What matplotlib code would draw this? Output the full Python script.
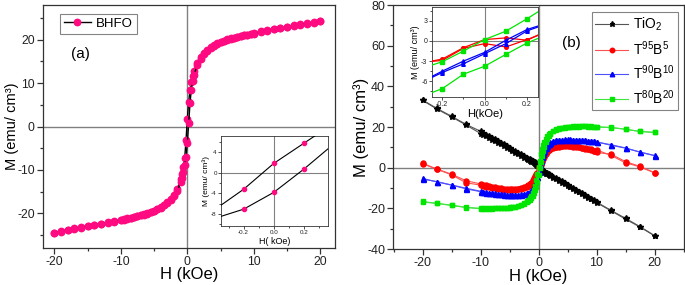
import matplotlib
matplotlib.use('Agg')
import matplotlib.pyplot as plt
from matplotlib.ticker import MultipleLocator, FixedLocator

plt.rcParams['font.family'] = ['Liberation Sans', 'DejaVu Sans']
plt.rcParams['mathtext.fontset'] = 'custom'
plt.rcParams['mathtext.rm'] = 'Liberation Sans'
plt.rcParams['mathtext.it'] = 'Liberation Sans:italic'
plt.rcParams['mathtext.bf'] = 'Liberation Sans:bold'
plt.rcParams['axes.unicode_minus'] = False

# ---------------- Panel (a): BHFO ----------------
Ha_desc = [20, 19, 18, 17, 16, 15, 14, 13, 12, 11,
           10, 9.5, 9, 8.5, 8, 7.5, 7, 6.5, 6, 5.5, 5, 4.5, 4, 3.5, 3, 2.5, 2,
           1.5, 1, 0.8, 0.6, 0.4, 0.2,
           0,
           -0.2, -0.4, -0.6, -0.8, -1, -1.5,
           -2, -2.5, -3, -3.5, -4, -4.5, -5, -5.5, -6, -6.5, -7, -7.5, -8, -8.5, -9, -9.5, -10,
           -11, -12, -13, -14, -15, -16, -17, -18, -19, -20]
Ma_desc = [24.3, 24.0, 23.8, 23.6, 23.3, 23.0, 22.7, 22.5, 22.2, 21.9,
           21.5, 21.4, 21.2, 21.1, 20.9, 20.7, 20.5, 20.3, 20.1, 19.8, 19.5, 19.2, 18.8, 18.3, 17.7, 16.9, 16.0,
           14.7, 12.8, 11.6, 10.3, 8.4, 5.7,
           1.8,
           -3.2, -7.3, -9.3, -10.9, -12.2, -14.3,
           -15.7, -16.8, -17.5, -18.1, -18.6, -19.0, -19.4, -19.7, -20.0, -20.2, -20.4, -20.6, -20.8, -21.0, -21.2, -21.4, -21.5,
           -21.8, -22.1, -22.4, -22.6, -22.9, -23.2, -23.5, -23.8, -24.1, -24.5]
Ha_asc = Ha_desc[::-1]
Ma_asc = [-24.5, -24.2, -23.9, -23.6, -23.3, -23.0, -22.7, -22.4, -22.2, -21.9,
          -21.6, -21.5, -21.3, -21.1, -20.9, -20.7, -20.5, -20.3, -20.1, -19.8, -19.5, -19.1, -18.7, -18.2, -17.6, -16.9, -16.0,
          -14.8, -12.9, -11.9, -10.5, -8.9, -7.0,
          -3.8,
          0.7, 5.4, 8.5, 10.5, 11.9, 14.2,
          15.6, 16.7, 17.5, 18.1, 18.6, 19.0, 19.4, 19.7, 20.0, 20.2, 20.4, 20.6, 20.8, 21.0, 21.1, 21.3, 21.4,
          21.8, 22.1, 22.4, 22.6, 22.9, 23.2, 23.5, 23.7, 23.9, 24.3]

# inset (a)
Hia = [-0.4, -0.2, 0.0, 0.2, 0.4]
Mia_upper = [-7.3, -3.2, 1.8, 5.7, 9.6]
Mia_lower = [-8.9, -7.05, -3.8, 0.7, 5.6]

# ---------------- Panel (b) ----------------
Hb_desc = [20, 17.5, 15, 12.5,
           10, 9.5, 9, 8.5, 8, 7.5, 7, 6.5, 6, 5.5, 5, 4.5, 4, 3.5, 3, 2.5, 2,
           1.75, 1.5, 1.25,
           1, 0.8, 0.6, 0.4, 0.2,
           0,
           -0.2, -0.4, -0.6, -0.8, -1,
           -1.25, -1.5, -1.75,
           -2, -2.5, -3, -3.5, -4, -4.5, -5, -5.5, -6, -6.5, -7, -7.5, -8, -8.5, -9, -9.5, -10,
           -12.5, -15, -17.5, -20]
Hb_asc = Hb_desc[::-1]

tio2_desc = [-33.4, -29.0, -24.9, -21.0,
             -16.9, -16.1, -15.2, -14.4, -13.5, -12.7, -11.9, -11.0, -10.2, -9.3, -8.5, -7.7, -6.8, -6.0, -5.2, -4.4, -3.6,
             -3.2, -2.8, -2.4,
             -2.0, -1.6, -1.2, -0.6, 0.2,
             1.0,
             1.7, 2.2, 2.6, 3.0, 3.3,
             3.7, 4.1, 4.5,
             4.9, 5.7, 6.5, 7.3, 8.1, 8.9, 9.8, 10.6, 11.5, 12.3, 13.1, 13.9, 14.7, 15.5, 16.3, 17.1, 17.9,
             21.3, 25.3, 29.1, 33.3]
tio2_asc = [33.1, 28.8, 25.0, 21.0,
            16.8, 16.2, 15.4, 14.6, 13.8, 13.0, 12.2, 11.4, 10.6, 9.8, 9.0, 8.2, 7.4, 6.6, 5.8, 5.0, 4.2,
            3.8, 3.4, 3.0,
            2.6, 2.2, 1.8, 1.3, 0.6,
            -0.2,
            -0.9, -1.4, -1.8, -2.2, -2.5,
            -2.9, -3.3, -3.7,
            -4.1, -4.9, -5.7, -6.5, -7.3, -8.1, -8.9, -9.7, -10.6, -11.4, -12.2, -13.0, -13.9, -14.7, -15.5, -16.3, -17.2,
            -21.2, -25.3, -29.2, -33.5]

t95_desc = [-2.4, 0.6, 3.0, 6.6,
            7.5, 8.3, 9.0, 9.3, 9.6, 9.9, 10.2, 10.5, 10.7, 10.9, 11.0, 11.0, 10.9, 10.7, 10.4, 10.0, 9.3,
            8.8, 8.0, 7.0,
            5.8, 4.6, 3.2, 2.0, 0.1,
            0.2,
            -2.8, -4.2, -5.3, -6.2, -6.9,
            -7.6, -8.2, -8.6,
            -9.0, -9.6, -10.0, -10.3, -10.5, -10.7, -10.7, -10.6, -10.4, -10.2, -9.9, -9.6, -9.3, -9.0, -8.6, -8.3, -8.0,
            -6.4, -3.2, -0.7, 2.2]
t95_asc = [1.9, -0.8, -3.5, -7.4,
           -8.6, -8.9, -9.4, -9.5, -9.9, -10.1, -10.4, -10.6, -10.9, -11.0, -11.1, -11.0, -10.9, -10.7, -10.4, -10.0, -9.4,
           -8.9, -8.3, -7.4,
           -6.3, -5.2, -4.1, -3.2, -2.7,
           -0.4,
           0.3, 1.5, 2.9, 4.2, 5.4,
           6.7, 7.7, 8.5,
           9.0, 9.7, 10.1, 10.4, 10.6, 10.7, 10.7, 10.6, 10.4, 10.2, 10.0, 9.7, 9.4, 9.1, 8.6, 8.0, 8.8,
           6.0, 2.4, 0.4, -2.6]

t90_desc = [5.9, 7.6, 9.7, 11.3,
            12.6, 12.9, 13.1, 13.3, 13.4, 13.5, 13.6, 13.7, 13.7, 13.8, 13.8, 13.8, 13.8, 13.7, 13.5, 13.0, 12.2,
            11.6, 10.8, 9.7,
            8.3, 6.9, 5.3, 3.5, 1.7,
            -1.7,
            -4.5, -6.8, -8.4, -9.6, -10.5,
            -11.3, -11.9, -12.3,
            -12.6, -12.9, -13.1, -13.2, -13.3, -13.3, -13.3, -13.2, -13.1, -13.0, -12.8, -12.7, -12.5, -12.3, -12.1, -11.9, -11.6,
            -10.1, -8.5, -6.9, -5.6]
t90_asc = [-5.3, -7.0, -8.6, -10.4,
           -11.8, -12.2, -12.4, -12.6, -12.7, -12.9, -13.0, -13.1, -13.2, -13.3, -13.4, -13.4, -13.4, -13.3, -13.2, -13.0, -12.6,
           -12.3, -11.9, -11.2,
           -10.2, -9.0, -7.6, -6.3, -4.7,
           -1.9,
           1.5, 3.8, 5.8, 7.5, 8.8,
           10.1, 11.1, 11.8,
           12.4, 13.1, 13.5, 13.7, 13.8, 13.9, 13.9, 13.9, 13.8, 13.8, 13.7, 13.6, 13.5, 13.3, 13.1, 12.9, 12.7,
           11.0, 9.6, 7.7, 6.0]

t80_desc = [17.3, 17.8, 18.9, 19.8,
            20.1, 20.2, 20.3, 20.4, 20.4, 20.4, 20.4, 20.3, 20.3, 20.2, 20.1, 19.9, 19.7, 19.4, 19.0, 18.2, 17.2,
            16.5, 15.5, 14.2,
            12.6, 11.0, 9.0, 6.5, 3.3,
            0.2,
            -3.1, -6.3, -8.8, -10.8, -12.4,
            -13.9, -15.0, -15.9,
            -16.6, -17.6, -18.3, -18.8, -19.1, -19.3, -19.5, -19.6, -19.7, -19.8, -19.9, -19.9, -20.0, -20.0, -20.0, -20.0, -20.0,
            -19.5, -18.4, -17.6, -16.6]
t80_asc = [-16.9, -17.6, -18.6, -19.6,
           -20.2, -20.1, -20.1, -20.1, -20.1, -20.0, -20.0, -19.9, -19.9, -19.8, -19.7, -19.5, -19.3, -19.0, -18.6, -18.0, -17.1,
           -16.6, -15.9, -15.0,
           -13.8, -12.6, -11.1, -9.3, -7.1,
           -3.8,
           -0.3, 2.8, 5.8, 8.3, 10.3,
           12.4, 14.1, 15.4,
           16.4, 17.8, 18.6, 19.1, 19.5, 19.7, 19.9, 20.0, 20.1, 20.2, 20.2, 20.3, 20.3, 20.2, 20.2, 20.1, 20.0,
           19.7, 18.9, 17.8, 17.4]

# inset (b)
Hib_desc = [0.3, 0.2, 0.1, 0.0, -0.1, -0.2, -0.3]
Hib_asc = [-0.3, -0.2, -0.1, 0.0, 0.1, 0.2, 0.3]
i95_desc = [1.6, 0.1, 0.45, 0.2, -1.0, -2.7, -3.3]
i95_asc = [-3.2, -2.9, -1.1, -0.4, -0.9, 0.2, 1.4]
i90_desc = [2.7, 1.7, 0.1, -1.7, -3.0, -4.5, -6.1]
i90_asc = [-6.2, -4.7, -3.4, -1.9, -0.4, 1.5, 2.6]
i80_desc = [5.3, 3.3, 1.45, 0.2, -1.5, -3.1, -4.1]
i80_asc = [-8.3, -7.1, -4.95, -3.76, -2.0, -0.3, 1.0]

labels_b = ['TiO$_2$', 'T$^{95}$B$^{5}$', 'T$^{90}$B$^{10}$', 'T$^{80}$B$^{20}$']
colors_b = ['#000000', '#ff0000', '#0000ff', '#00e600']
linecolors_b = ['#555555', '#ff5050', '#5050ff', '#40e640']
markers_b = ['*', 'o', '^', 's']

M_LABEL = 'M (emu/ cm\u00b3)'
PINK = '#ff0a80'
SPINE = '#333333'
ZERO = '#808080'


def style_axes(ax, lw=0.9, major=4, minor=2.5, labelsize=9):
    for s in ax.spines.values():
        s.set_color(SPINE)
        s.set_linewidth(lw)
    ax.tick_params(which='both', direction='out', top=False, right=False,
                   colors=SPINE, labelcolor='#222222', labelsize=labelsize, width=lw)
    ax.tick_params(which='major', length=major, pad=2)
    ax.tick_params(which='minor', length=minor)


fig = plt.figure(figsize=(6.85, 2.85), dpi=100)

# ---- (a) ----
axA = fig.add_axes([43 / 685, 37 / 285, 292 / 685, 243 / 285])
axA.axhline(0, color=ZERO, lw=1.0, zorder=1)
axA.axvline(0, color=ZERO, lw=1.0, zorder=1)
axA.plot(Ha_desc, Ma_desc, '-', color='black', lw=1.0, marker='o', ms=4.6,
         mfc=PINK, mec=PINK, label='BHFO', zorder=3)
axA.plot(Ha_asc, Ma_asc, '-', color='black', lw=1.0, marker='o', ms=4.6,
         mfc=PINK, mec=PINK, zorder=3)
axA.set_xlim(-21.7, 22.2)
axA.set_ylim(-28, 28)
axA.xaxis.set_major_locator(MultipleLocator(10))
axA.xaxis.set_minor_locator(MultipleLocator(5))
axA.yaxis.set_major_locator(MultipleLocator(10))
axA.yaxis.set_minor_locator(MultipleLocator(5))
style_axes(axA, labelsize=8.7)
axA.set_xlabel('H (kOe)', fontsize=12)
axA.set_ylabel(M_LABEL, fontsize=10.5)
axA.xaxis.set_label_coords(0.5, -0.08)
axA.yaxis.set_label_coords(-0.083, 0.5)
leg = axA.legend(loc='upper left', bbox_to_anchor=(0.05, 0.975), fontsize=9.5,
                 frameon=True, fancybox=False, edgecolor='#666666',
                 handlelength=2.0, handletextpad=0.4, borderpad=0.3, borderaxespad=0.2)
leg.get_frame().set_linewidth(0.8)
axA.text(0.127, 0.80, '(a)', transform=axA.transAxes, fontsize=11, ha='center', va='center')

insA = fig.add_axes([221 / 685, 59 / 285, 107 / 685, 90 / 285])
insA.axhline(0, color=ZERO, lw=0.8, zorder=1)
insA.axvline(0, color=ZERO, lw=0.8, zorder=1)
insA.plot(Hia, Mia_upper, '-', color='black', lw=0.8, marker='o', ms=3,
          mfc=PINK, mec=PINK, zorder=3)
insA.plot(Hia, Mia_lower, '-', color='black', lw=0.8, marker='o', ms=3,
          mfc=PINK, mec=PINK, zorder=3)
insA.set_xlim(-0.35, 0.36)
insA.set_ylim(-10.3, 7.1)
insA.xaxis.set_major_locator(FixedLocator([-0.2, 0.0, 0.2]))
insA.xaxis.set_minor_locator(MultipleLocator(0.1))
insA.yaxis.set_major_locator(FixedLocator([-8, -4, 0, 4]))
insA.yaxis.set_minor_locator(MultipleLocator(2))
insA.set_xticklabels(['-0.2', '0.0', '0.2'])
style_axes(insA, lw=0.6, major=2, minor=1.2, labelsize=4.5)
insA.tick_params(pad=1)
insA.set_xlabel('H( kOe)', fontsize=6.5, labelpad=1)
insA.set_ylabel(M_LABEL, fontsize=6, labelpad=1)

# ---- (b) ----
axB = fig.add_axes([393.5 / 685, 36 / 285, 290 / 685, 244 / 285])
axB.axhline(0, color=ZERO, lw=1.0, zorder=1)
axB.axvline(0, color=ZERO, lw=1.0, zorder=1)
series_desc = [tio2_desc, t95_desc, t90_desc, t80_desc]
series_asc = [tio2_asc, t95_asc, t90_asc, t80_asc]
msizes = [4.2, 3.6, 3.6, 3.3]
for i in range(4):
    axB.plot(Hb_desc, series_desc[i], '-', color=linecolors_b[i], lw=0.8,
             marker=markers_b[i], ms=msizes[i], mfc=colors_b[i], mec=colors_b[i],
             label=labels_b[i], zorder=3 + i)
    axB.plot(Hb_asc, series_asc[i], '-', color=linecolors_b[i], lw=0.8,
             marker=markers_b[i], ms=msizes[i], mfc=colors_b[i], mec=colors_b[i],
             zorder=3 + i)
axB.set_xlim(-25, 25)
axB.set_ylim(-40, 80)
axB.xaxis.set_major_locator(MultipleLocator(10))
axB.xaxis.set_minor_locator(MultipleLocator(5))
axB.yaxis.set_major_locator(MultipleLocator(20))
axB.yaxis.set_minor_locator(MultipleLocator(10))
style_axes(axB)
axB.set_xlabel('H (kOe)', fontsize=12)
axB.set_ylabel(M_LABEL, fontsize=12)
axB.xaxis.set_label_coords(0.5, -0.08)
axB.yaxis.set_label_coords(-0.085, 0.5)
handles, labs = axB.get_legend_handles_labels()
legB = axB.legend(handles, labs, loc='upper right', bbox_to_anchor=(0.985, 0.975), fontsize=10,
                  frameon=True, fancybox=False, edgecolor='#666666', markerscale=0.9,
                  handlelength=2.4, handletextpad=0.3, borderpad=0.25, labelspacing=0.42,
                  borderaxespad=0.1)
legB.get_frame().set_linewidth(0.8)
axB.text(0.613, 0.843, '(b)', transform=axB.transAxes, fontsize=11, ha='center', va='center')

insB = fig.add_axes([431.7 / 685, 188.3 / 285, 106 / 685, 89.4 / 285])
insB.axhline(0, color=ZERO, lw=0.8, zorder=1)
insB.axvline(0, color=ZERO, lw=0.8, zorder=1)
ins_desc = [i95_desc, i90_desc, i80_desc]
ins_asc = [i95_asc, i90_asc, i80_asc]
for j in range(3):
    c = colors_b[j + 1]
    insB.plot(Hib_desc, ins_desc[j], '-', color=c, lw=0.9, marker=markers_b[j + 1], ms=2.6,
              mfc=c, mec=c, zorder=3)
    insB.plot(Hib_asc, ins_asc[j], '-', color=c, lw=0.9, marker=markers_b[j + 1], ms=2.6,
              mfc=c, mec=c, zorder=3)
insB.set_xlim(-0.25, 0.25)
insB.set_ylim(-8.3, 5)
insB.xaxis.set_major_locator(FixedLocator([-0.2, 0.0, 0.2]))
insB.xaxis.set_minor_locator(MultipleLocator(0.1))
insB.yaxis.set_major_locator(FixedLocator([-6, -3, 0, 3]))
insB.yaxis.set_minor_locator(MultipleLocator(1.5))
insB.set_xticklabels(['-0.2', '0.0', '0.2'])
style_axes(insB, lw=0.6, major=2, minor=1.2, labelsize=5)
insB.tick_params(pad=1)
insB.set_xlabel('H(kOe)', fontsize=8, labelpad=1)
insB.set_ylabel(M_LABEL, fontsize=6.5, labelpad=1)

fig.savefig('out.png', dpi=100)
